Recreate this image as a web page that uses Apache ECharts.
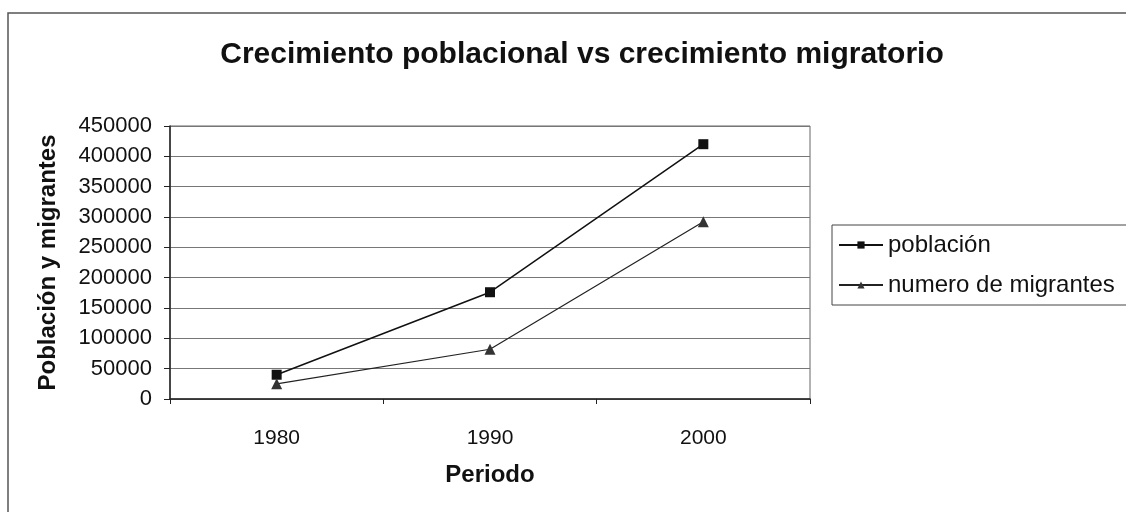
<!DOCTYPE html>
<html>
<head>
<meta charset="utf-8">
<script src="https://cdn.jsdelivr.net/npm/echarts@6/dist/echarts.min.js"></script>
<style>
  html, body { margin: 0; padding: 0; background: #fff; }
  #chart { width: 1126px; height: 512px; }
</style>
</head>
<body>
<div id="chart"></div>
<script>
// data
var periodos = ['1980', '1990', '2000'];
var poblacion = [40000, 176000, 420000];
var migrantes = [25000, 82000, 292000];

var fontFam = '"Liberation Sans", Arial, sans-serif';

var myChart = echarts.init(document.getElementById('chart'));

var option = {
  backgroundColor: '#fff',
  animation: false,
  textStyle: { fontFamily: fontFam, color: '#111' },
  title: {
    text: 'Crecimiento poblacional vs crecimiento migratorio',
    left: 577,
    textAlign: 'center',
    top: 35,
    textStyle: { fontSize: 30, fontWeight: 'bold', color: '#111', fontFamily: fontFam }
  },
  graphic: [
    {
      type: 'rect',
      shape: { x: 8, y: 13, width: 1130, height: 520 },
      style: { fill: 'none', stroke: '#555', lineWidth: 1.5 }
    }
  ],
  legend: {
    orient: 'vertical',
    left: 832,
    top: 225,
    padding: [8, 30, 8, 6],
    itemGap: 16,
    itemWidth: 44,
    itemHeight: 9,
    borderColor: '#444',
    borderWidth: 1,
    textStyle: { fontSize: 24, color: '#111', fontFamily: fontFam, padding: [0, 0, 0, 0] },
    data: ['población', 'numero de migrantes']
  },
  grid: {
    left: 170,
    right: 316,
    top: 126,
    bottom: 113,
    show: true,
    borderColor: '#666',
    borderWidth: 1
  },
  xAxis: {
    type: 'category',
    data: periodos,
    boundaryGap: true,
    name: 'Periodo',
    nameLocation: 'middle',
    nameGap: 64,
    nameTextStyle: { fontSize: 24, fontWeight: 'bold', color: '#111' },
    axisLine: { lineStyle: { color: '#222', width: 1.5 } },
    axisTick: { show: true, length: 5, lineStyle: { color: '#222' } },
    axisLabel: { fontSize: 21, color: '#111', margin: 29 }
  },
  yAxis: {
    type: 'value',
    min: 0,
    max: 450000,
    interval: 50000,
    name: 'Población y migrantes',
    nameLocation: 'middle',
    nameGap: 110,
    nameTextStyle: { fontSize: 24, fontWeight: 'bold', color: '#111' },
    axisLine: { show: true, lineStyle: { color: '#222', width: 1.5 } },
    axisTick: { show: true, length: 6, inside: false, lineStyle: { color: '#222' } },
    axisLabel: {
      fontSize: 22, color: '#111', margin: 18,
      formatter: function (v) { return String(v); }
    },
    splitLine: { show: true, lineStyle: { color: '#777', width: 1 } }
  },
  series: [
    {
      name: 'población',
      type: 'line',
      data: poblacion,
      symbol: 'rect',
      symbolSize: 10,
      lineStyle: { color: '#111', width: 1.5 },
      itemStyle: { color: '#111' }
    },
    {
      name: 'numero de migrantes',
      type: 'line',
      data: migrantes,
      symbol: 'triangle',
      symbolSize: 11,
      lineStyle: { color: '#222', width: 1.2 },
      itemStyle: { color: '#333' }
    }
  ]
};

myChart.setOption(option);
</script>
</body>
</html>
